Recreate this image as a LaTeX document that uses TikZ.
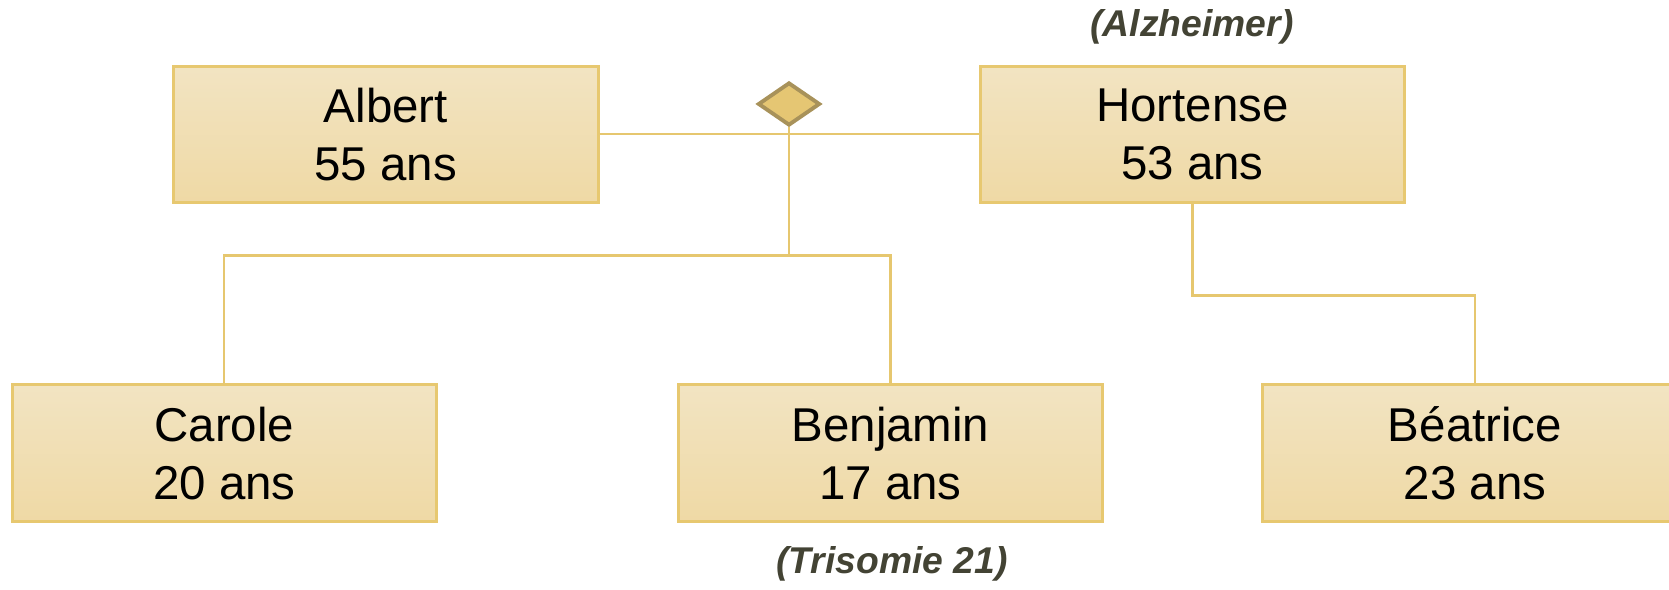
\documentclass[tikz,border=0pt]{standalone}
\usepackage{fontspec}
\setmainfont{Liberation Sans}
\usepackage{tikz}
\usetikzlibrary{shapes.geometric}
\definecolor{boxtop}{HTML}{F2E4C2}
\definecolor{boxbot}{HTML}{EFD9A5}
\definecolor{boxedge}{HTML}{E7C870}
\definecolor{linkcol}{HTML}{E6C76F}
\definecolor{diafill}{HTML}{E5C673}
\definecolor{diaedge}{HTML}{A8925A}
\definecolor{notecol}{HTML}{434334}

\begin{document}
\begin{tikzpicture}[
  person/.style={draw=boxedge,line width=0.85pt,top color=boxtop,bottom color=boxbot,
    minimum width=4.245cm,minimum height=1.367cm,inner sep=0pt,align=center,
    font=\fontsize{13.5}{16.5}\selectfont},
  link/.style={draw=linkcol,line width=0.6pt},
  note/.style={text=notecol,font=\fontsize{10.6}{12}\selectfont\bfseries\itshape}]
\clip (0,0) rectangle (16.69,5.89);
\useasboundingbox (0,0) rectangle (16.69,5.89);
% parents
\node[person] (Albert) at (3.858,4.546) {Albert\\55 ans};
\node[person] (Hortense) at (11.925,4.546) {Hortense\\53 ans};
\node[note] (alz) at (11.92,5.62) {(Alzheimer)};
% children
\node[person] (Carole) at (2.244,1.357) {Carole\\20 ans};
\node[person] (Benjamin) at (8.905,1.357) {Benjamin\\17 ans};
\node[person] (Beatrice) at (14.75,1.357) {Béatrice\\23 ans};
\node[note] (tri) at (8.92,0.25) {(Trisomie 21)};
% union
\node[diamond,draw=diaedge,fill=diafill,line width=1.1pt,inner sep=0pt,
  minimum width=0.62cm,minimum height=0.43cm] (dia) at (7.89,4.85) {};
\coordinate (kids) at (7.89,3.335);
\draw[link] (Albert.east) -- (Albert.east -| dia.south);
\draw[link] (Hortense.west) -- (Hortense.west -| dia.south);
\draw[link] (dia.south) -- (kids);
\draw[link] (Carole.north) |- (kids) -| (Benjamin.north);
\draw[link] (Hortense.south) -- ++(0,-0.913) -| (Beatrice.north);
\end{tikzpicture}
\end{document}
